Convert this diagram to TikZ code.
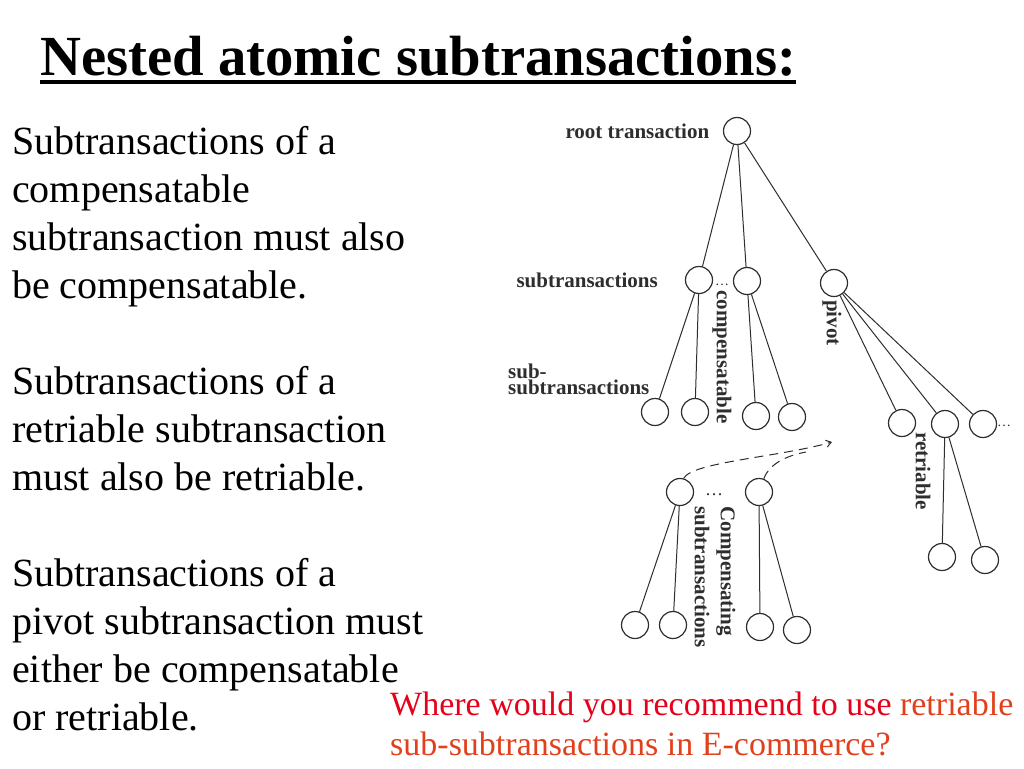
\documentclass[tikz,border=0pt]{standalone}
\usepackage{fontspec}
\setmainfont{Liberation Serif}
\usetikzlibrary{arrows.meta, positioning, calc}
\definecolor{qred}{HTML}{E6001A}
\definecolor{qorange}{HTML}{E2401C}
\definecolor{scan}{HTML}{2E2E2E}

\begin{document}
\begin{tikzpicture}[x=1pt, y=-1pt,
    txn/.style={circle, draw=scan, line width=1.2pt, inner sep=0pt, minimum size=27pt},
    lbl/.style={inner sep=1pt, text=scan, font=\fontsize{21}{26}\selectfont\bfseries},
    gapdots/.style={inner sep=0pt, text=scan, anchor=base},
    link/.style={draw=scan, line width=1pt},
    body/.style={anchor=north west, inner sep=0pt, align=left, font=\fontsize{40}{48}\selectfont}]
  \fill[white] (0,0) rectangle (1024,768);
  \useasboundingbox (0,0) rectangle (1024,768);

  % title and text
  \node[anchor=base west, inner sep=0pt, font=\fontsize{56.7}{60}\selectfont\bfseries] (title) at (40,75) {Nested atomic subtransactions:};
  \draw[line width=3.5pt] ($(title.base west)+(0,7)$) -- ($(title.base east)+(0,7)$);

  \node[body] (para1) at (12,126) {Subtransactions of a\\compensatable\\subtransaction must also\\be compensatable.};
  \node[body] (para2) at (12,366) {Subtransactions of a\\retriable subtransaction\\must also be retriable.};
  \node[body] (para3) at (12,558) {Subtransactions of a\\pivot subtransaction must\\either be compensatable\\or retriable.};

  \node[anchor=north west, inner sep=0pt, align=left, font=\fontsize{34}{40}\selectfont] (question) at (390,692)
    {{\color{qred}Where would you recommend to use} {\color{qorange}retriable}\\{\color{qorange}sub-subtransactions in E-commerce?}};

  % tree
  \node[txn] (root) at (737,131) {};
  \node[txn] (sub1) at (699,280) {};
  \node[txn] (sub2) at (747,281) {};
  \node[txn] (pivot) at (834,283) {};
  \node[txn] (c1) at (655,412) {};
  \node[txn] (c2) at (695,412) {};
  \node[txn] (c3) at (756,416) {};
  \node[txn] (c4) at (792,417) {};
  \node[txn] (p1) at (902,423) {};
  \node[txn] (p2) at (945,424) {};
  \node[txn] (p3) at (983,424) {};
  \node[txn] (r1) at (942,557) {};
  \node[txn] (r2) at (985,560) {};
  \node[txn] (comp1) at (680,492) {};
  \node[txn] (comp2) at (759,492) {};
  \node[txn] (k1) at (635,625) {};
  \node[txn] (k2) at (673,625) {};
  \node[txn] (k3) at (760,627) {};
  \node[txn] (k4) at (797,630) {};

  \draw[link] (root) -- (sub1);
  \draw[link] (root) -- (sub2);
  \draw[link] (root) -- (pivot);
  \draw[link] (sub1) -- (c1);
  \draw[link] (sub1) -- (c2);
  \draw[link] (sub2) -- (c3);
  \draw[link] (sub2) -- (c4);
  \draw[link] (pivot) -- (p1);
  \draw[link] (pivot) -- (p2);
  \draw[link] (pivot) -- (p3);
  \draw[link] (p2) -- (r1);
  \draw[link] (p2) -- (r2);
  \draw[link] (comp1) -- (k1);
  \draw[link] (comp1) -- (k2);
  \draw[link] (comp2) -- (k3);
  \draw[link] (comp2) -- (k4);

  % compensation arrow
  \coordinate (tip) at (832,442);
  \coordinate (merge) at (806,452);
  \draw[link, dash pattern=on 9pt off 6pt, -{Straight Barb[length=5pt, width=7pt]}] (comp1.75) .. controls (692,462) and (780,457) .. (tip);
  \draw[link, dash pattern=on 9pt off 6pt] (comp2.70) .. controls (770,462) and (790,455) .. (merge);

  % labels
  \node[lbl, left=12.5pt of root] (rootlbl) {root transaction};
  \node[lbl, left=26pt of sub1] (sublbl) {subtransactions};
  \node[lbl, anchor=north west, align=left, font=\fontsize{21}{16}\selectfont\bfseries] (subsublbl) at (507,363) {sub-\\subtransactions};
  \node[lbl, rotate=-90] (complbl) at (722,357) {compensatable};
  \node[lbl, rotate=-90] (pivotlbl) at (832,323) {pivot};
  \node[lbl, rotate=-90] (retrlbl) at (923,471) {retriable};
  \node[lbl, rotate=-90, align=left] (compnglbl) at (715,577) {Compensating\\subtransactions};

  \node[gapdots, font=\fontsize{14}{14}\selectfont] (dots1) at (722,285) {\ldots};
  \node[gapdots, font=\fontsize{18}{18}\selectfont] (dots2) at (714,495) {\ldots};
  \node[gapdots, anchor=base west, font=\fontsize{14}{14}\selectfont] (dots3) at (997,426) {\ldots};
\end{tikzpicture}
\end{document}
